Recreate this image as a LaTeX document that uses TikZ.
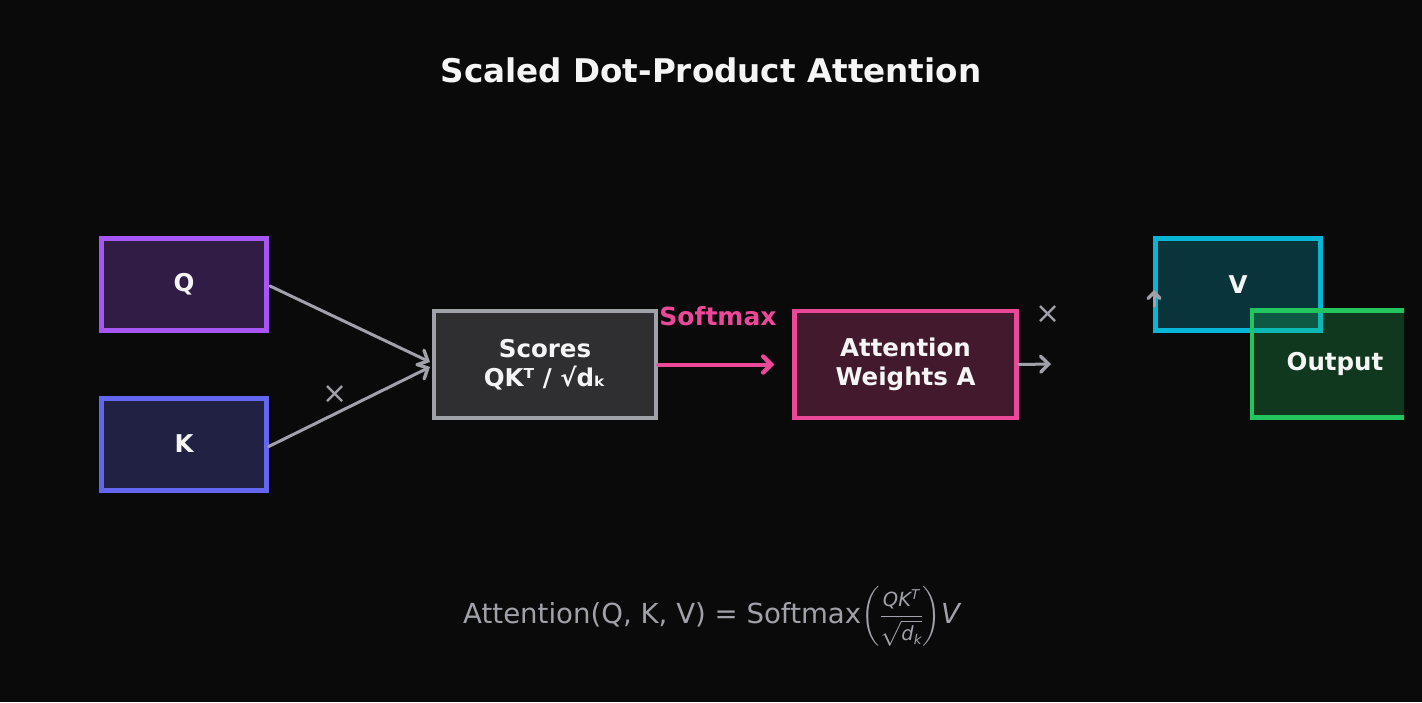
\documentclass[tikz,border=0pt]{standalone}
\usepackage{amsmath}
\usepackage{fontspec}
\setmainfont{DejaVu Sans}
\usetikzlibrary{arrows.meta}
\definecolor{bg}{HTML}{0A0A0A}
\definecolor{txt}{HTML}{F5F5F5}
\definecolor{cpurple}{HTML}{A855F7}
\definecolor{cindigo}{HTML}{6366F1}
\definecolor{cgray}{HTML}{A1A1AA}
\definecolor{cpink}{HTML}{EC4899}
\definecolor{ccyan}{HTML}{06B6D4}
\definecolor{cgreen}{HTML}{22C55E}
\newcommand{\boxfont}{\fontsize{24.5}{29}\selectfont\bfseries}
\newcommand{\fr}[1]{\hbox{\fontsize{19.5}{20}\selectfont\itshape #1}}
\newcommand{\frs}[1]{\hbox{\fontsize{13.5}{14}\selectfont\itshape #1}}
\begin{document}
\begin{tikzpicture}[x=1pt,y=-1pt,
  box/.style={draw=#1, fill=#1, fill opacity=0.25, text opacity=1, line width=4.5pt,
    text=txt, font=\boxfont, align=center, inner sep=0pt},
  small/.style={box=#1, minimum width=165pt, minimum height=92pt},
  big/.style={box=#1, minimum width=222pt, minimum height=107pt},
  conn/.style={draw=cgray, line width=3pt, line cap=round,
    -{Straight Barb[length=8pt,width=16pt,line width=3.4pt,line cap=round]}},
  times/.style={text=cgray, font=\fontsize{30}{30}\selectfont, inner sep=0pt}]
\fill[bg] (0,0) rectangle (1422,702);
\useasboundingbox (0,0) rectangle (1422,702);
\node[text=txt, font=\fontsize{32.6}{36}\selectfont\bfseries] (title) at (711,70) {Scaled Dot-Product Attention};
\node[small=cpurple] (Q) at (184,284.5) {Q};
\node[small=cindigo] (K) at (184,444.5) {\raisebox{1.5pt}{K}};
\node[big=cgray] (S) at (545,364.5) {Scores\\QKᵀ / √dₖ};
\node[big=cpink] (A) at (905.5,364.5) {Attention\\Weights A};
\node[small=ccyan] (V) at (1238,284.5) {V};
\begin{scope}
\clip (0,0) rectangle (1404,702);
\node[box=cgreen, minimum width=166pt, minimum height=107pt] (O) at (1335,364) {Output};
\end{scope}
\node[text=cpink, font=\fontsize{25}{28}\selectfont\bfseries] (sm) at (718,316) {Softmax};
\node[times] (x1) at (335,395) {×};
\node[times] (x2) at (1048,315) {×};
\coordinate (qa) at (270,286);
\coordinate (qb) at (430,362);
\coordinate (kb) at (430,367);
\coordinate (ae) at (1051,364);
\coordinate (vu1) at (1154,306);
\coordinate (vu2) at (1154,290);
\draw[conn] (qa) -- (qb);
\draw[conn] ([yshift=-2pt]K.east) -- (kb);
\draw[conn, draw=cpink, line width=4pt, -{Straight Barb[length=8pt,width=16pt,line width=4.4pt,line cap=round]}] (S.east) -- ([xshift=-18pt]A.west);
\draw[conn] (A.east) -- (ae);
\draw[conn, line width=3pt, -{Straight Barb[length=6pt,width=12pt,line width=3.4pt,line cap=round]}] (vu1) -- (vu2);
\node[anchor=base west, text=cgray, font=\fontsize{27.6}{32}\selectfont, inner sep=0pt] (F) at (463,623)
 {Attention(Q, K, V) = Softmax$\left(\dfrac{\fr{QK\raisebox{7pt}{\frs{T}}}}{\sqrt{\fr{d\raisebox{-4pt}{\frs{k}}}}}\right)\!\textit{V}$};
\end{tikzpicture}
\end{document}
